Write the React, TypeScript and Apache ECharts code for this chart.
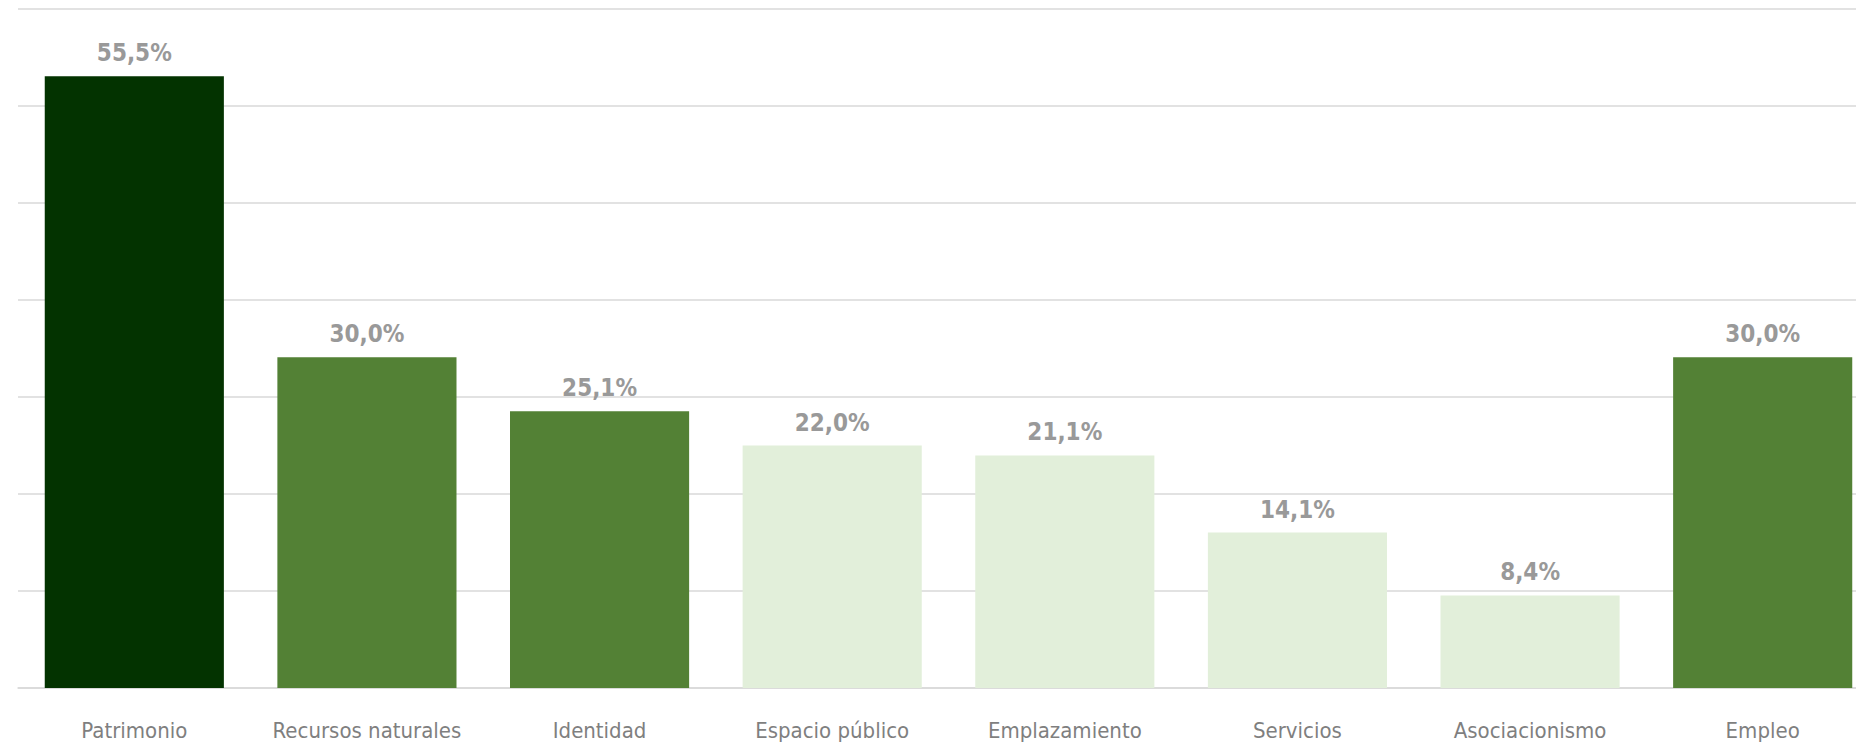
import React, { useEffect, useRef } from "react";
import * as echarts from "echarts";

const categories = [
  "Patrimonio",
  "Recursos naturales",
  "Identidad",
  "Espacio público",
  "Emplazamiento",
  "Servicios",
  "Asociacionismo",
  "Empleo",
];
const values = [55.5, 30.0, 25.1, 22.0, 21.1, 14.1, 8.4, 30.0];
const barColors = [
  "#033300",
  "#538135",
  "#538135",
  "#e2efda",
  "#e2efda",
  "#e2efda",
  "#e2efda",
  "#538135",
];
const axisMax = 61.6;
const axisInterval = 8.8;

const FONT = "'DejaVu Sans Condensed', 'Liberation Sans Narrow', sans-serif";

export default function App() {
  const ref = useRef<HTMLDivElement>(null);
  useEffect(() => {
    if (!ref.current) return;
    const chart = echarts.init(ref.current, undefined, { renderer: "svg" });
    chart.setOption({
      animation: false,
      backgroundColor: "#ffffff",
      grid: { left: 18, right: 0, top: 9, bottom: 64 },
      xAxis: {
        type: "category",
        data: categories,
        axisLine: { show: true, lineStyle: { color: "#d9d9d9", width: 1.5 } },
        axisTick: { show: false },
        axisLabel: {
          color: "#7f7f7f",
          fontFamily: FONT,
          fontSize: 22,
          margin: 31,
          interval: 0,
        },
      },
      yAxis: {
        type: "value",
        min: 0,
        max: axisMax,
        interval: axisInterval,
        axisLabel: { show: false },
        axisLine: { show: false },
        axisTick: { show: false },
        splitLine: { lineStyle: { color: "#d9d9d9", width: 1.5 } },
      },
      series: [
        {
          type: "bar",
          barCategoryGap: "23%",
          data: values.map((v, i) => ({
            value: v,
            itemStyle: { color: barColors[i] },
          })),
          label: {
            show: true,
            position: "top",
            distance: 11,
            color: "#999999",
            fontFamily: FONT,
            fontWeight: "bold",
            fontSize: 24,
            formatter: (p: any) => p.value.toFixed(1).replace(".", ",") + "%",
          },
        },
      ],
    });
    return () => chart.dispose();
  }, []);
  return (
    <div
      style={{
        position: "absolute",
        left: 0,
        top: 0,
        width: 1856,
        height: 752,
        overflow: "hidden",
      }}
    >
      <div ref={ref} style={{ width: 1879, height: 752 }} />
    </div>
  );
}
